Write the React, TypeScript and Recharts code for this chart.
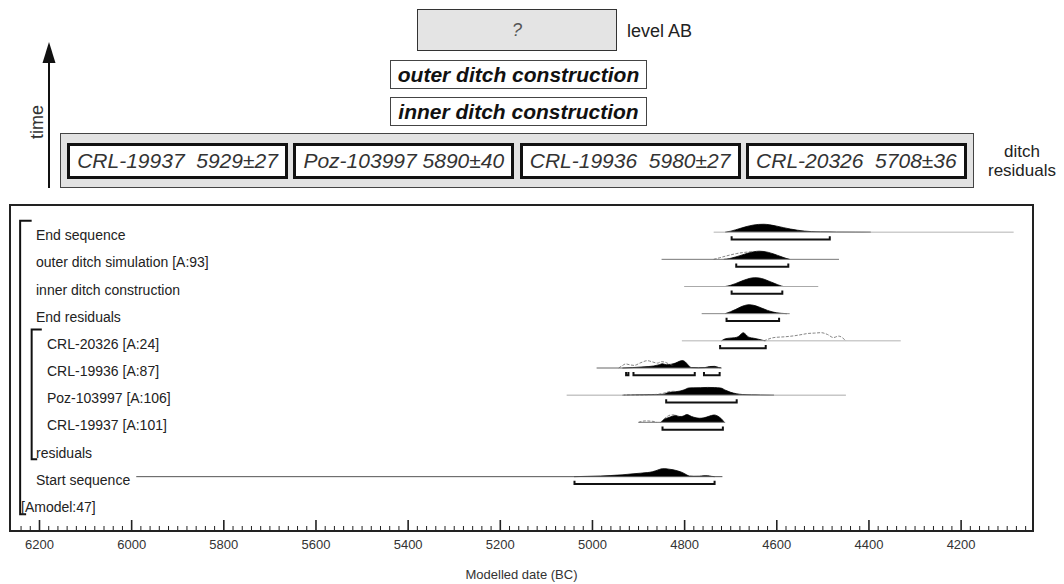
import React from 'react'
import { ComposedChart, Area, Line, XAxis, YAxis, ReferenceArea } from 'recharts'

type Pt = [number, number]

const FONT = '"Liberation Sans", Arial, Helvetica, sans-serif'

// model rows, top to bottom; levels count up from the date axis
const rowNames = [
  'End sequence',
  'outer ditch simulation [A:93]',
  'inner ditch construction',
  'End residuals',
  'CRL-20326 [A:24]',
  'CRL-19936 [A:87]',
  'Poz-103997 [A:106]',
  'CRL-19937 [A:101]',
  'residuals',
  'Start sequence',
  '[Amodel:47]',
]
const rowLevels = [11, 10, 9, 8, 7, 6, 5, 4, 3, 2, 1]
const rowDepth = [1, 1, 1, 1, 2, 2, 2, 2, 1, 1, 0]

// calendar axis (years BC)
const majorTicks = [6200, 6000, 5800, 5600, 5400, 5200, 5000, 4800, 4600, 4400, 4200]
const firstMinorTick = 6240
const lastMinorTick = 4060
const minorStep = 20
const dateDomain: Pt = [4044, 6264]

// posterior densities: [year BC, relative density]
const endSequence: Pt[] = [
  [4712, 0], [4700, 0.12], [4690, 0.28], [4680, 0.45], [4670, 0.62], [4660, 0.77],
  [4650, 0.88], [4640, 0.95], [4628, 0.97], [4615, 0.9], [4600, 0.74], [4585, 0.55],
  [4570, 0.38], [4555, 0.24], [4540, 0.13], [4525, 0.07], [4505, 0.04], [4470, 0.02],
  [4430, 0.01], [4396, 0],
]
const outerDitch: Pt[] = [
  [4715, 0], [4702, 0.1], [4690, 0.28], [4680, 0.45], [4670, 0.63], [4660, 0.8],
  [4650, 0.93], [4638, 1.0], [4628, 0.96], [4618, 0.85], [4608, 0.68], [4598, 0.48],
  [4588, 0.28], [4580, 0.12], [4572, 0],
]
const innerDitch: Pt[] = [
  [4712, 0], [4700, 0.15], [4690, 0.35], [4680, 0.58], [4670, 0.8], [4660, 0.98],
  [4648, 1.08], [4638, 1.04], [4628, 0.9], [4618, 0.68], [4608, 0.45], [4598, 0.22],
  [4590, 0.06], [4586, 0],
]
const endResiduals: Pt[] = [
  [4712, 0], [4700, 0.25], [4690, 0.5], [4680, 0.78], [4670, 1.0], [4660, 1.1],
  [4650, 1.02], [4640, 0.85], [4630, 0.62], [4620, 0.4], [4610, 0.22], [4600, 0.1],
  [4590, 0.04], [4578, 0],
]
const crl20326: Pt[] = [
  [4720, 0], [4713, 0.22], [4703, 0.33], [4692, 0.38], [4684, 0.5], [4677, 0.85],
  [4673, 1.0], [4668, 0.82], [4661, 0.45], [4650, 0.32], [4640, 0.2], [4630, 0.06],
  [4625, 0],
]
const crl19936: Pt[] = [
  [4935, 0], [4913, 0.05], [4888, 0.14], [4867, 0.25], [4855, 0.4], [4848, 0.52],
  [4840, 0.4], [4830, 0.45], [4820, 0.6], [4810, 0.85], [4805, 0.92], [4798, 0.72],
  [4791, 0.28], [4785, 0.05], [4770, 0.03], [4756, 0.05], [4746, 0.18], [4735, 0.2],
  [4726, 0.06], [4720, 0],
]
const poz103997: Pt[] = [
  [4932, 0], [4915, 0.03], [4890, 0.05], [4862, 0.07], [4845, 0.12], [4837, 0.3],
  [4828, 0.38], [4820, 0.42], [4810, 0.5], [4801, 0.65], [4791, 0.88], [4780, 0.9],
  [4765, 0.92], [4750, 0.95], [4735, 0.93], [4722, 0.88], [4711, 0.6], [4700, 0.35],
  [4688, 0.18], [4675, 0.08], [4655, 0.04], [4635, 0.03], [4606, 0],
]
const crl19937: Pt[] = [
  [4852, 0], [4845, 0.35], [4834, 0.6], [4825, 0.78], [4820, 0.85], [4812, 0.72],
  [4806, 0.72], [4795, 0.95], [4785, 0.72], [4775, 0.55], [4767, 0.5], [4758, 0.55],
  [4747, 0.75], [4736, 0.9], [4725, 0.65], [4718, 0.3], [4714, 0],
]
const startSequence: Pt[] = [
  [5040, 0], [5010, 0.04], [4982, 0.08], [4960, 0.14], [4946, 0.19], [4925, 0.28],
  [4910, 0.36], [4895, 0.43], [4881, 0.5], [4870, 0.6], [4863, 0.72], [4855, 0.88],
  [4848, 0.98], [4840, 0.97], [4834, 0.92], [4825, 0.85], [4816, 0.72], [4808, 0.58],
  [4801, 0.4], [4795, 0.2], [4790, 0.08], [4780, 0.05], [4768, 0.06], [4758, 0.12],
  [4750, 0.12], [4742, 0.04], [4735, 0],
]

// unmodelled likelihoods, drawn as outlines
const outerDitchPrior: Pt[] = [
  [4737, 0], [4725, 0.18], [4712, 0.38], [4700, 0.55], [4688, 0.7], [4675, 0.82],
  [4662, 0.9], [4650, 0.95],
]
const crl20326Prior: Pt[] = [
  [4628, 0], [4606, 0.4], [4582, 0.5], [4562, 0.62], [4545, 0.78], [4533, 0.9],
  [4518, 0.95], [4504, 1.0], [4490, 0.78], [4477, 0.4], [4466, 0.58], [4450, 0],
]
const crl19936Prior: Pt[] = [
  [4943, 0], [4935, 0.3], [4928, 0.5], [4918, 0.38], [4910, 0.32], [4895, 0.65],
  [4881, 0.9], [4870, 0.75], [4859, 0.6], [4850, 0.78], [4843, 0.72], [4834, 0.5],
  [4823, 0.3],
]
const poz103997Prior: Pt[] = [
  [4935, 0], [4920, 0.04], [4900, 0.03], [4880, 0.06], [4860, 0.1], [4845, 0.25],
  [4832, 0.45], [4822, 0.48],
]
const crl19937PriorTail: Pt[] = [
  [4900, 0], [4893, 0.12], [4885, 0.18], [4875, 0.15], [4866, 0.1], [4861, 0],
]
const crl19937Prior: Pt[] = [[4852, 0], [4842, 0.55], [4830, 0.9], [4822, 0.92]]

// full extent of each distribution
const endSequenceExtent: Pt = [4737, 4086]
const outerDitchExtent: Pt = [4850, 4465]
const innerDitchExtent: Pt = [4801, 4510]
const endResidualsExtent: Pt = [4763, 4572]
const crl20326Extent: Pt = [4806, 4331]
const crl19936Extent: Pt = [4991, 4722]
const poz103997Extent: Pt = [5056, 4450]
const crl19937Extent: Pt = [4900, 4712]
const startSequenceExtent: Pt = [5990, 4718]

// 95.4% highest posterior density ranges
const endSequenceRanges: Pt[] = [[4698, 4485]]
const outerDitchRanges: Pt[] = [[4688, 4575]]
const innerDitchRanges: Pt[] = [[4698, 4588]]
const endResidualsRanges: Pt[] = [[4709, 4595]]
const crl20326Ranges: Pt[] = [[4723, 4624]]
const crl19936Ranges: Pt[] = [[4927, 4922], [4911, 4778], [4758, 4724]]
const poz103997Ranges: Pt[] = [[4840, 4687]]
const crl19937Ranges: Pt[] = [[4848, 4717]]
const startSequenceRanges: Pt[] = [[5039, 4735]]

// sequence / phase brackets on the left: [year BC, level]
const sequenceBracket: Pt[] = [[6217, 11.42], [6242, 11.42], [6242, 0.62], [6229, 0.62]]
const phaseBracket: Pt[] = [[6195, 7.42], [6217, 7.42], [6217, 2.64], [6205, 2.64]]

// boxes of the stratigraphic sketch
const residualDates = ['CRL-19937  5929±27', 'Poz-103997 5890±40', 'CRL-19936  5980±27', 'CRL-20326  5708±36']
const events = ['outer ditch construction', 'inner ditch construction']

const DENSITY_HEIGHT = 0.3

type Row = {
  level: number
  extent: Pt
  density: Pt[]
  priors: Pt[][]
  ranges: Pt[]
  lineColor: string
}

const rows: Row[] = [
  { level: 11, extent: endSequenceExtent, density: endSequence, priors: [], ranges: endSequenceRanges, lineColor: '#b4b4b4' },
  { level: 10, extent: outerDitchExtent, density: outerDitch, priors: [outerDitchPrior], ranges: outerDitchRanges, lineColor: '#777' },
  { level: 9, extent: innerDitchExtent, density: innerDitch, priors: [], ranges: innerDitchRanges, lineColor: '#aaa' },
  { level: 8, extent: endResidualsExtent, density: endResiduals, priors: [], ranges: endResidualsRanges, lineColor: '#888' },
  { level: 7, extent: crl20326Extent, density: crl20326, priors: [crl20326Prior], ranges: crl20326Ranges, lineColor: '#b4b4b4' },
  { level: 6, extent: crl19936Extent, density: crl19936, priors: [crl19936Prior], ranges: crl19936Ranges, lineColor: '#666' },
  { level: 5, extent: poz103997Extent, density: poz103997, priors: [poz103997Prior], ranges: poz103997Ranges, lineColor: '#aaa' },
  { level: 4, extent: crl19937Extent, density: crl19937, priors: [crl19937PriorTail, crl19937Prior], ranges: crl19937Ranges, lineColor: '#777' },
  { level: 2, extent: startSequenceExtent, density: startSequence, priors: [], ranges: startSequenceRanges, lineColor: '#555' },
]

const dateTicks: number[] = []
for (let t = firstMinorTick; t >= lastMinorTick; t -= minorStep) dateTicks.push(t)

function curve(points: Pt[], level: number) {
  return points.map(([year, d]) => ({ year, v: level + d * DENSITY_HEIGHT }))
}

function bracket([from, to]: Pt, level: number) {
  const low = level - 0.27
  const hook = level - 0.15
  return [
    { year: from, v: hook },
    { year: from, v: low },
    { year: to, v: low },
    { year: to, v: hook },
  ]
}

function asPoints(points: Pt[]) {
  return points.map(([year, v]) => ({ year, v }))
}

function DateTick(props: any) {
  const { x, y, payload } = props
  const major = majorTicks.includes(payload.value)
  return (
    <g>
      <line x1={x} x2={x} y1={y} y2={y - (major ? 11 : 5)} stroke="#222" strokeWidth={major ? 1.6 : 1} />
      {major && (
        <text x={x} y={y + 18} textAnchor="middle" fontSize={13} fill="#333" fontFamily={FONT}>
          {payload.value}
        </text>
      )}
    </g>
  )
}

function RowLabel(props: any) {
  const { x, y, payload } = props
  const i = rowLevels.indexOf(payload.value)
  const indent = [11, 26, 37][rowDepth[i]]
  return (
    <text x={x + indent} y={y + 3} dominantBaseline="central" fontSize={14} fill="#222" fontFamily={FONT}>
      {rowNames[i]}
    </text>
  )
}

function Sketch() {
  const box: React.CSSProperties = {
    position: 'absolute',
    boxSizing: 'border-box',
    display: 'flex',
    alignItems: 'center',
    justifyContent: 'center',
    fontFamily: FONT,
    whiteSpace: 'pre',
  }
  return (
    <>
      <svg width={100} height={200} style={{ position: 'absolute', left: 0, top: 0 }}>
        <line x1={49} x2={49} y1={58} y2={188} stroke="#111" strokeWidth={2} />
        <polygon points="42.5,63 55.5,63 49,42" fill="#111" />
        <text
          x={37}
          y={122}
          transform="rotate(-90 37 122)"
          textAnchor="middle"
          dominantBaseline="central"
          fontSize={18}
          fill="#333"
          fontFamily={FONT}
        >
          time
        </text>
      </svg>

      <div style={{ ...box, left: 417, top: 9, width: 200, height: 42, background: '#e4e4e4', border: '1.5px solid #333', fontStyle: 'italic', fontSize: 18, color: '#555' }}>
        ?
      </div>
      <div style={{ position: 'absolute', left: 627, top: 20, fontFamily: FONT, fontSize: 18, lineHeight: '22px', color: '#222' }}>
        level AB
      </div>

      {events.map((label, i) => (
        <div
          key={label}
          style={{ ...box, left: 390, top: 60 + i * 37, width: 257, height: 29, background: '#fff', border: '1.5px solid #444', fontStyle: 'italic', fontWeight: 'bold', fontSize: 21, color: '#111' }}
        >
          {label}
        </div>
      ))}

      <div style={{ ...box, left: 60, top: 133, width: 914, height: 55, background: '#e2e2e2', border: '1.5px solid #444' }} />
      {residualDates.map((label, i) => (
        <div
          key={label}
          style={{ ...box, left: 67 + i * 226.3, top: 143, width: 221, height: 36, background: '#fff', border: '3px solid #111', fontStyle: 'italic', fontSize: 21, color: '#333' }}
        >
          {label}
        </div>
      ))}
      <div style={{ position: 'absolute', left: 982, top: 142, width: 80, textAlign: 'center', fontFamily: FONT, fontSize: 17, lineHeight: '19px', color: '#222' }}>
        ditch
        <br />
        residuals
      </div>
    </>
  )
}

export default function App() {
  return (
    <div style={{ position: 'absolute', left: 0, top: 0, width: 1064, height: 584, background: '#fff' }}>
      <ComposedChart width={1064} height={584} margin={{ top: 205, right: 31, bottom: 3, left: 9 }}>
        <XAxis
          type="number"
          dataKey="year"
          domain={dateDomain}
          reversed
          allowDataOverflow
          ticks={dateTicks}
          interval={0}
          tick={DateTick}
          tickLine={false}
          axisLine={false}
          tickSize={0}
          tickMargin={0}
          height={50}
          label={{ value: 'Modelled date (BC)', position: 'insideBottom', offset: 2, fontSize: 13, fill: '#333', fontFamily: FONT }}
        />
        <YAxis
          type="number"
          domain={[0, 12]}
          allowDataOverflow
          ticks={rowLevels}
          interval={0}
          width={1}
          tick={RowLabel}
          tickLine={false}
          axisLine={false}
          tickSize={0}
          tickMargin={0}
        />

        {rows.map((r) => (
          <Line
            key={`extent-${r.level}`}
            data={[{ year: r.extent[0], v: r.level }, { year: r.extent[1], v: r.level }]}
            dataKey="v"
            stroke={r.lineColor}
            strokeWidth={1}
            dot={false}
            activeDot={false}
            isAnimationActive={false}
          />
        ))}

        {rows.flatMap((r) =>
          r.priors.map((p, j) => (
            <Line
              key={`prior-${r.level}-${j}`}
              data={curve(p, r.level)}
              dataKey="v"
              type="monotone"
              stroke="#666"
              strokeWidth={0.8}
              strokeDasharray="3 1.5"
              dot={false}
              activeDot={false}
              isAnimationActive={false}
            />
          ))
        )}

        {rows.map((r) => (
          <Area
            key={`density-${r.level}`}
            data={curve(r.density, r.level)}
            dataKey="v"
            baseValue={r.level}
            type="monotone"
            stroke="#000"
            strokeWidth={0.8}
            fill="#000"
            fillOpacity={1}
            dot={false}
            activeDot={false}
            isAnimationActive={false}
          />
        ))}

        {rows.flatMap((r) =>
          r.ranges.map((rg, j) => (
            <Line
              key={`range-${r.level}-${j}`}
              data={bracket(rg, r.level)}
              dataKey="v"
              stroke="#111"
              strokeWidth={2}
              dot={false}
              activeDot={false}
              isAnimationActive={false}
            />
          ))
        )}

        <Line data={asPoints(sequenceBracket)} dataKey="v" stroke="#111" strokeWidth={2} dot={false} activeDot={false} isAnimationActive={false} />
        <Line data={asPoints(phaseBracket)} dataKey="v" stroke="#111" strokeWidth={2} dot={false} activeDot={false} isAnimationActive={false} />

        <ReferenceArea
          x1={dateDomain[1]}
          x2={dateDomain[0]}
          y1={0}
          y2={12}
          fill="none"
          stroke="#222"
          strokeWidth={2}
          ifOverflow="visible"
        />
      </ComposedChart>
      <Sketch />
    </div>
  )
}
